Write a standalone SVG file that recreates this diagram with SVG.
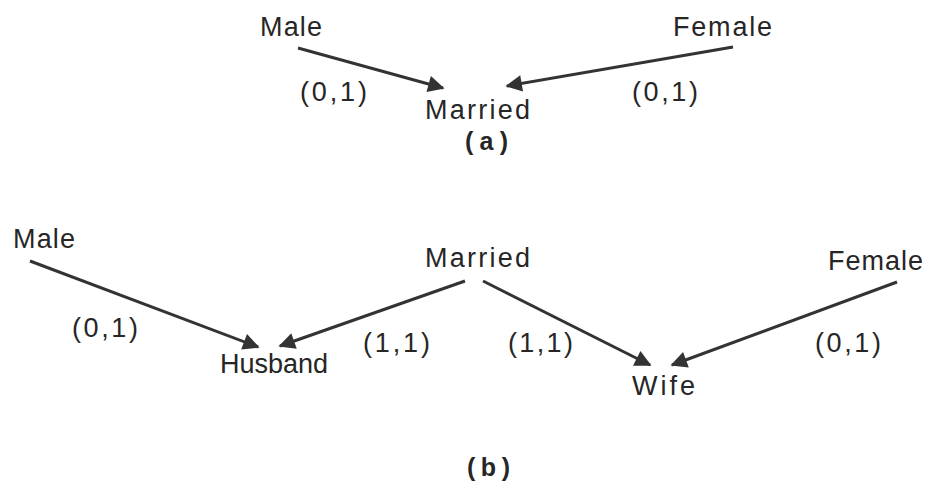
<svg xmlns="http://www.w3.org/2000/svg" width="941" height="495" viewBox="0 0 941 495">
<style>
text{font-family:"Liberation Sans",Arial,sans-serif;font-size:27px;fill:#262626}
.cap{font-weight:bold;font-size:25px}
.c line{stroke:#333;stroke-width:3;marker-end:url(#ah)}
</style>
<defs>
<marker id="ah" viewBox="0 0 10 10" refX="9" refY="5" markerWidth="7" markerHeight="5.5" markerUnits="strokeWidth" orient="auto">
<path d="M0,0 L10,5 L0,10 z" fill="#333"/>
</marker>
</defs>
<rect width="941" height="495" fill="#fff"/>
<g class="c" id="connectors">
<line x1="298" y1="48" x2="443" y2="88"/>
<line x1="733" y1="47" x2="507" y2="86"/>
<line x1="30" y1="261" x2="258" y2="347"/>
<line x1="465" y1="281" x2="280" y2="346"/>
<line x1="483" y1="281" x2="650" y2="365"/>
<line x1="897" y1="282" x2="672" y2="365"/>
</g>
<g id="a-male"><text x="260" y="36" textLength="62" lengthAdjust="spacing">Male</text></g>
<g id="a-female"><text x="673" y="36" textLength="99" lengthAdjust="spacing">Female</text></g>
<g id="a-married"><text x="425" y="119" textLength="105" lengthAdjust="spacing">Married</text></g>
<text x="300" y="101" textLength="67" lengthAdjust="spacing">(0,1)</text>
<text x="632" y="101" textLength="66" lengthAdjust="spacing">(0,1)</text>
<text class="cap" x="465" y="150" textLength="43" lengthAdjust="spacing">(a)</text>
<g id="b-male"><text x="13" y="248" textLength="62" lengthAdjust="spacing">Male</text></g>
<g id="b-married"><text x="425" y="267" textLength="105" lengthAdjust="spacing">Married</text></g>
<g id="b-female"><text x="828" y="270" textLength="95" lengthAdjust="spacing">Female</text></g>
<g id="b-husband"><text x="220" y="373" textLength="108" lengthAdjust="spacing">Husband</text></g>
<g id="b-wife"><text x="632" y="395" textLength="63" lengthAdjust="spacing">Wife</text></g>
<text x="72" y="337" textLength="66" lengthAdjust="spacing">(0,1)</text>
<text x="363" y="352" textLength="67" lengthAdjust="spacing">(1,1)</text>
<text x="508" y="352" textLength="65" lengthAdjust="spacing">(1,1)</text>
<text x="815" y="352" textLength="66" lengthAdjust="spacing">(0,1)</text>
<text class="cap" x="467" y="476" textLength="43" lengthAdjust="spacing">(b)</text>
</svg>
